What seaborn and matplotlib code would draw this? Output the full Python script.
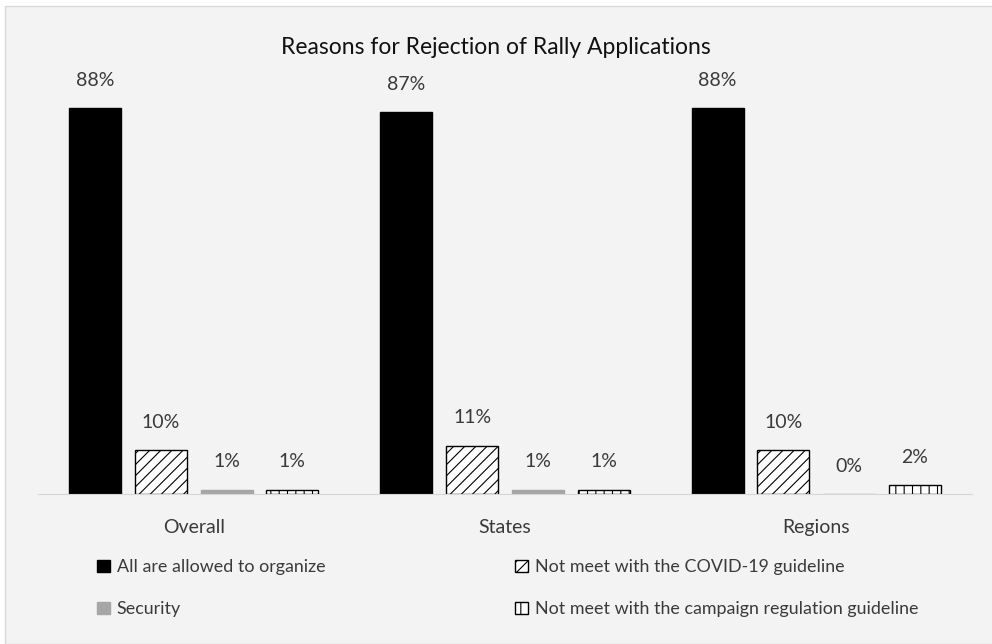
import pandas as pd
import matplotlib.pyplot as plt
import seaborn as sns
from matplotlib.patches import Patch, Rectangle

# =====================================
# Data
# =====================================

groups = ["Overall", "States", "Regions"]
reasons = [
    "All are allowed to organize",
    "Not meet with the COVID-19 guideline",
    "Security",
    "Not meet with the campaign regulation guideline",
]
allowed = [88, 87, 88]
covid = [10, 11, 10]
security = [1, 1, 0]
campaign = [1, 1, 2]

df = pd.DataFrame({
    "group": groups * 4,
    "reason": [r for r in reasons for _ in groups],
    "pct": allowed + covid + security + campaign,
})

# =====================================
# Styles
# =====================================

sns.set_style("white")
plt.rcParams["font.family"] = ["Lato", "DejaVu Sans"]
plt.rcParams["hatch.linewidth"] = 0.8

bg = "#f2f3f2"
txt = "#3a3a3a"
fills = ["black", "white", "#a6a6a6", "white"]
edges = ["black", "black", "#a6a6a6", "black"]
hatches = [None, "///", None, "||"]

fig = plt.figure(figsize=(9.92, 6.44), dpi=100, facecolor="white")
fig.patches.append(
    Rectangle((5 / 992, 0), 1, 1 - 6 / 644, transform=fig.transFigure,
              facecolor=bg, edgecolor="#d8d8d8", linewidth=1, zorder=-1)
)

ax = fig.add_axes([38 / 992, 150 / 644, 934 / 992, 434 / 644])
ax.set_facecolor(bg)

sns.barplot(
    data=df,
    x="group",
    y="pct",
    hue="reason",
    hue_order=reasons,
    order=groups,
    palette=fills,
    width=0.845,
    gap=0.21,
    legend=False,
    ax=ax,
)

for cont, fc, ec, h in zip(ax.containers, fills, edges, hatches):
    for bar in cont:
        bar.set_facecolor(fc)
        bar.set_edgecolor(ec)
        bar.set_linewidth(1)
        if h:
            bar.set_hatch(h)
    ax.bar_label(
        cont,
        labels=[f"{v:.0f}%" for v in cont.datavalues],
        padding=14,
        fontsize=14,
        color=txt,
    )

ax.set_xlim(-0.5, 2.5)
ax.set_ylim(0, 98.95)
ax.set_yticks([])
ax.set_xlabel("")
ax.set_ylabel("")
ax.tick_params(axis="x", length=0, pad=18, labelsize=14, labelcolor=txt)
for side in ["top", "right", "left"]:
    ax.spines[side].set_visible(False)
ax.spines["bottom"].set_color("#d6d6d6")

fig.text(0.5, 1 - 47 / 644, "Reasons for Rejection of Rally Applications",
         ha="center", va="center", fontsize=16.5, color="#111111")

handles = [
    Patch(facecolor=fills[i], edgecolor=edges[i], hatch=hatches[i], label=reasons[i])
    for i in [0, 2, 1, 3]
]
fig.legend(
    handles=handles,
    ncol=2,
    loc="upper left",
    bbox_to_anchor=(81 / 992, 1 - 543 / 644),
    frameon=False,
    fontsize=12.9,
    handlelength=0.7,
    handleheight=0.7,
    handletextpad=0.4,
    labelspacing=1.45,
    columnspacing=10.6,
    labelcolor=txt,
)

fig.savefig("out.png", dpi=100, facecolor="white")
